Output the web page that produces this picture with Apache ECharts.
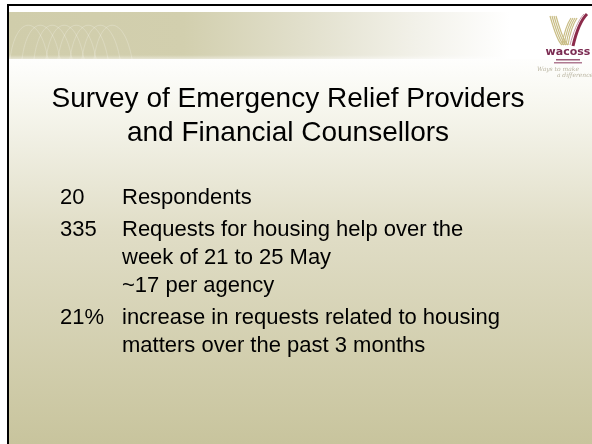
<!DOCTYPE html>
<html>
<head>
<meta charset="utf-8">
<script src="https://cdn.jsdelivr.net/npm/echarts@6/dist/echarts.min.js"></script>
<style>
  html, body { margin: 0; padding: 0; background: #fff; }
  #main { width: 592px; height: 444px; }
</style>
</head>
<body>
<div id="main"></div>
<script>
// slide text
const titleLines = ['Survey of Emergency Relief Providers', 'and Financial Counsellors']
const figures = ['20', '335', '21%']
const details = [
  ['Respondents'],
  ['Requests for housing help over the', 'week of 21 to 25 May', '~17 per agency'],
  ['increase in requests related to housing', 'matters over the past 3 months']
]

const FONT = '"Liberation Sans", Arial, sans-serif'
const chart = echarts.init(document.getElementById('main'), null, { renderer: 'canvas' })

const elements = []

// slide body (white fading to tan)
elements.push({
  type: 'rect',
  shape: { x: 8, y: 59, width: 584, height: 385 },
  style: {
    fill: new echarts.graphic.LinearGradient(0, 0, 0, 1, [
      { offset: 0, color: '#fefefd' },
      { offset: 0.1, color: '#f8f8f1' },
      { offset: 0.45, color: '#e0ddc6' },
      { offset: 1, color: '#c8c49d' }
    ])
  },
  silent: true
})
// banner
elements.push({
  type: 'rect',
  shape: { x: 8, y: 12, width: 584, height: 47 },
  style: {
    fill: new echarts.graphic.LinearGradient(0, 0, 1, 0, [
      { offset: 0, color: '#d0cdab' },
      { offset: 0.3, color: '#d2cfae' },
      { offset: 0.5, color: '#e1dfcb' },
      { offset: 0.7, color: '#f2f1e9' },
      { offset: 0.86, color: '#ffffff' },
      { offset: 1, color: '#ffffff' }
    ])
  },
  silent: true
})
// soft lower edge of banner
elements.push({
  type: 'rect',
  shape: { x: 8, y: 55, width: 584, height: 4 },
  style: {
    fill: new echarts.graphic.LinearGradient(0, 0, 0, 1, [
      { offset: 0, color: 'rgba(255,255,255,0)' },
      { offset: 1, color: 'rgba(255,255,255,0.45)' }
    ])
  },
  silent: true
})
// faint waves in the banner
for (let i = 0; i < 8; i++) {
  elements.push({
    type: 'bezierCurve',
    shape: { x1: 10 + i * 12, y1: 59, cpx1: 16 + i * 12, cpy1: 14, cpx2: 40 + i * 12, cpy2: 14, x2: 48 + i * 12, y2: 59 },
    style: { stroke: 'rgba(255,255,255,0.22)', lineWidth: 1, fill: null },
    silent: true
  })
}
// borders
elements.push({
  type: 'line', shape: { x1: 7, y1: 5, x2: 592, y2: 5 },
  style: { stroke: '#000', lineWidth: 2 }, silent: true
})
elements.push({
  type: 'line', shape: { x1: 8, y1: 4, x2: 8, y2: 444 },
  style: { stroke: '#000', lineWidth: 2 }, silent: true
})

// logo
const tan = '#c9bd85'
for (let i = 0; i < 4; i++) {
  const o = i * 2
  elements.push({
    type: 'bezierCurve',
    shape: { x1: 550 + o, y1: 16, cpx1: 554 + o, cpy1: 30, cpx2: 558 + o, cpy2: 42, x2: 562 + o, y2: 45 },
    style: { stroke: tan, lineWidth: 1.2, fill: null }, silent: true
  })
  elements.push({
    type: 'bezierCurve',
    shape: { x1: 562 + o, y1: 45, cpx1: 564 + o, cpy1: 33, cpx2: 567 + o, cpy2: 24, x2: 571 + o, y2: 18 },
    style: { stroke: tan, lineWidth: 1.2, fill: null }, silent: true
  })
}
elements.push({
  type: 'bezierCurve',
  shape: { x1: 587, y1: 14, cpx1: 581, cpy1: 20, cpx2: 576, cpy2: 33, x2: 573, y2: 46 },
  style: { stroke: '#8c2b4b', lineWidth: 3, fill: null }, silent: true
})
elements.push({
  type: 'bezierCurve',
  shape: { x1: 584, y1: 14, cpx1: 578, cpy1: 20, cpx2: 573, cpy2: 33, x2: 570, y2: 45 },
  style: { stroke: '#c79aa6', lineWidth: 1, fill: null }, silent: true
})
elements.push({
  type: 'text', x: 568, y: 52,
  style: { text: 'wacoss', fill: '#7b2b52', font: 'bold 11px "DejaVu Sans", sans-serif', align: 'center', verticalAlign: 'middle' },
  silent: true
})
elements.push({
  type: 'rect', shape: { x: 556, y: 59, width: 24, height: 1.5 },
  style: { fill: '#9a5a78' }, silent: true
})
elements.push({
  type: 'rect', shape: { x: 554, y: 62, width: 28, height: 1.5 },
  style: { fill: '#b07a92' }, silent: true
})
elements.push({
  type: 'text', x: 558, y: 69,
  style: { text: 'Ways to make', fill: '#b9b4a0', font: 'italic 6px "DejaVu Serif", serif', align: 'center', verticalAlign: 'middle' },
  silent: true
})
elements.push({
  type: 'text', x: 575, y: 75,
  style: { text: 'a difference', fill: '#b9b4a0', font: 'italic 6px "DejaVu Serif", serif', align: 'center', verticalAlign: 'middle' },
  silent: true
})

// title
titleLines.forEach((t, i) => {
  elements.push({
    type: 'text', x: 288, y: 99 + i * 34,
    style: { text: t, fill: '#000', font: '28px ' + FONT, align: 'center', verticalAlign: 'middle' },
    silent: true
  })
})

// bullet rows
let y = 198
figures.forEach((f, i) => {
  elements.push({
    type: 'text', x: 60, y: y,
    style: { text: f, fill: '#000', font: '22px ' + FONT, align: 'left', verticalAlign: 'middle' },
    silent: true
  })
  details[i].forEach((line, j) => {
    elements.push({
      type: 'text', x: 122, y: y + j * 28,
      style: { text: line, fill: '#000', font: '22px ' + FONT, align: 'left', verticalAlign: 'middle' },
      silent: true
    })
  })
  y += (details[i].length - 1) * 28 + 32
})

chart.setOption({
  backgroundColor: '#ffffff',
  animation: false,
  graphic: { elements: elements }
})
</script>
</body>
</html>
